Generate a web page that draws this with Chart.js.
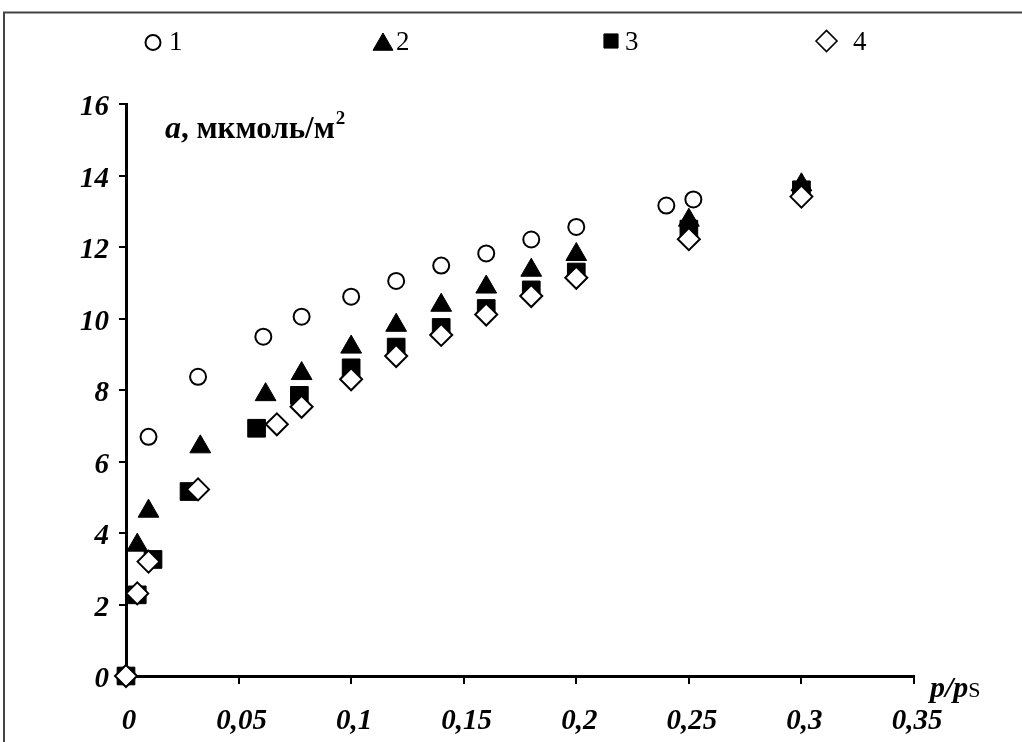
<!DOCTYPE html>
<html>
<head>
<meta charset="utf-8">
<script src="https://cdn.jsdelivr.net/npm/chart.js@4.4.0/dist/chart.umd.min.js"></script>
<style>
  html, body { margin: 0; padding: 0; background: #fff; }
  #wrap { width: 1022px; height: 742px; }
</style>
</head>
<body>
<div id="wrap"><canvas id="isotherm" width="1022" height="742"></canvas></div>
<script>
// --- DATA: adsorption a (µmol/m2) vs relative pressure p/ps ---
const seriesNames = ['1', '2', '3', '4'];

const x1 = [0.01, 0.032, 0.061, 0.078, 0.1, 0.12, 0.14, 0.16, 0.18, 0.2, 0.24, 0.252];
const y1 = [6.69, 8.37, 9.49, 10.05, 10.61, 11.05, 11.48, 11.82, 12.21, 12.56, 13.16, 13.33];

const x2 = [0.005, 0.01, 0.033, 0.062, 0.078, 0.1, 0.12, 0.14, 0.16, 0.18, 0.2, 0.25, 0.3];
const y2 = [3.66, 4.61, 6.41, 7.87, 8.46, 9.2, 9.81, 10.37, 10.88, 11.35, 11.79, 12.75, 13.74];

const x3 = [0, 0.005, 0.012, 0.028, 0.058, 0.077, 0.1, 0.12, 0.14, 0.16, 0.18, 0.2, 0.25, 0.3];
const y3 = [0, 2.27, 3.26, 5.16, 6.93, 7.85, 8.62, 9.2, 9.75, 10.28, 10.8, 11.3, 12.5, 13.6];

const x4 = [0, 0.005, 0.01, 0.032, 0.067, 0.078, 0.1, 0.12, 0.14, 0.16, 0.18, 0.2, 0.25, 0.3];
const y4 = [0, 2.31, 3.2, 5.22, 7.04, 7.53, 8.3, 8.95, 9.54, 10.11, 10.63, 11.14, 12.22, 13.41];

const xTickLabels = ['0', '0,05', '0,1', '0,15', '0,2', '0,25', '0,3', '0,35'];
const yTickLabels = ['0', '2', '4', '6', '8', '10', '12', '14', '16'];

const SERIF = '"Liberation Serif", "Times New Roman", serif';

const toPoints = (xs, ys) => xs.map((x, i) => ({ x: x, y: ys[i] }));

// marker looks for each series (also reused by the legend)
const markers = [
    { pointStyle: 'circle',   radius: 8,    fill: '#fff', stroke: '#000', width: 2 },
    { pointStyle: 'triangle', radius: 12,   fill: '#000', stroke: '#000', width: 1 },
    { pointStyle: 'rect',     radius: 12.5, fill: '#000', stroke: '#000', width: 1 },
    { pointStyle: 'rectRot',  radius: 11,   fill: '#fff', stroke: '#000', width: 2 }
];

const seriesData = [toPoints(x1, y1), toPoints(x2, y2), toPoints(x3, y3), toPoints(x4, y4)];

const datasets = seriesData.map((pts, i) => ({
    label: seriesNames[i],
    data: pts,
    order: 4 - i,              // later series on top
    clip: false,
    pointStyle: markers[i].pointStyle,
    pointRadius: markers[i].radius,
    pointHoverRadius: markers[i].radius,
    pointBackgroundColor: markers[i].fill,
    pointBorderColor: markers[i].stroke,
    pointBorderWidth: markers[i].width,
    showLine: false
}));

// outer frame, legend row and axis captions
const decorations = {
    id: 'decorations',
    beforeDraw(chart) {
        const ctx = chart.ctx;
        ctx.save();
        ctx.fillStyle = '#fff';
        ctx.fillRect(0, 0, chart.width, chart.height);
        ctx.strokeStyle = '#444';
        ctx.lineWidth = 2;
        ctx.strokeRect(4, 12.5, chart.width + 10, chart.height + 10);
        ctx.restore();
    },
    afterDraw(chart) {
        const ctx = chart.ctx;
        ctx.save();
        ctx.fillStyle = '#000';
        ctx.textBaseline = 'alphabetic';

        // legend
        const legendItems = [
            { mx: 153, my: 42.5, r: 7.5, tx: 169 },
            { mx: 383, my: 44.5, r: 11.5, tx: 396 },
            { mx: 611, my: 41, r: 10, tx: 625 },
            { mx: 826.5, my: 41, r: 10.5, tx: 853 }
        ];
        legendItems.forEach((it, i) => {
            const m = markers[i];
            ctx.fillStyle = m.fill;
            ctx.strokeStyle = m.stroke;
            ctx.lineWidth = i === 3 ? 1.6 : m.width;
            Chart.helpers.drawPoint(ctx, {
                pointStyle: m.pointStyle, radius: it.r, rotation: 0, borderWidth: ctx.lineWidth
            }, it.mx, it.my);
            ctx.fillStyle = '#000';
            ctx.font = '27px ' + SERIF;
            ctx.fillText(seriesNames[i], it.tx, 50);
        });

        // y caption
        let x = 165;
        ctx.font = 'italic bold 32px ' + SERIF;
        ctx.fillText('a', x, 138);
        x += ctx.measureText('a').width;
        ctx.font = 'bold 31px ' + SERIF;
        ctx.fillText(', мкмоль/м', x, 138);
        x += ctx.measureText(', мкмоль/м').width;
        ctx.font = 'bold 19px ' + SERIF;
        ctx.fillText('2', x + 1, 124);

        // x caption
        x = 930;
        ctx.font = 'italic bold 30px ' + SERIF;
        ctx.fillText('p/p', x, 697);
        x += ctx.measureText('p/p').width;
        ctx.font = '22px ' + SERIF;
        ctx.fillText('S', x, 697);

        ctx.restore();
    }
};

const tickFont = { family: SERIF, size: 29, weight: 'bold', style: 'italic' };

new Chart(document.getElementById('isotherm'), {
    type: 'scatter',
    data: { datasets: datasets },
    options: {
        responsive: false,
        animation: false,
        devicePixelRatio: 1,
        layout: { padding: { top: 104, left: 0, right: 108, bottom: 0 } },
        plugins: {
            legend: { display: false },
            tooltip: { enabled: false }
        },
        scales: {
            x: {
                type: 'linear',
                min: 0,
                max: 0.35,
                afterFit: s => { s.height = 66; },
                afterBuildTicks: s => {
                    s.ticks = xTickLabels.map((_, i) => ({ value: i * 0.05 }));
                },
                ticks: {
                    color: '#000',
                    font: tickFont,
                    padding: 20,
                    labelOffset: 3,
                    maxRotation: 0,
                    autoSkip: false,
                    callback: (v, i) => xTickLabels[i]
                },
                grid: { drawOnChartArea: false, drawTicks: true, tickLength: 8, color: '#000', lineWidth: 2 },
                border: { display: true, color: '#000', width: 3 }
            },
            y: {
                type: 'linear',
                min: 0,
                max: 16,
                afterFit: s => { s.width = 126; },
                afterBuildTicks: s => {
                    s.ticks = yTickLabels.map((_, i) => ({ value: i * 2 }));
                },
                ticks: {
                    color: '#000',
                    font: tickFont,
                    padding: 10,
                    labelOffset: 4,
                    autoSkip: false,
                    callback: (v, i) => yTickLabels[i]
                },
                grid: { drawOnChartArea: false, drawTicks: true, tickLength: 7, color: '#000', lineWidth: 2 },
                border: { display: true, color: '#000', width: 3 }
            }
        }
    },
    plugins: [decorations]
});
</script>
</body>
</html>
